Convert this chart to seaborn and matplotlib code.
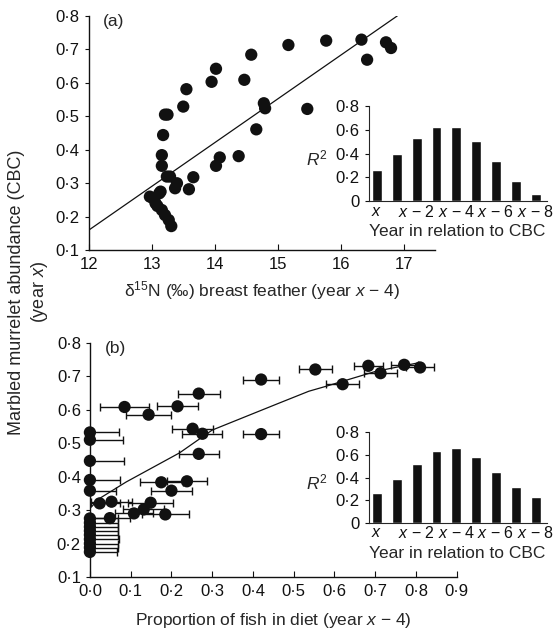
import matplotlib
matplotlib.use('Agg')
import matplotlib.pyplot as plt
import seaborn as sns
import pandas as pd
from matplotlib.ticker import FuncFormatter

# panel (a): d15N of breast feathers vs CBC abundance
n15 = [13.21, 13.25, 13.18, 13.16, 13.16, 13.24, 13.29, 13.40, 13.37, 12.97,
       13.02, 13.06, 13.12, 13.14, 13.09, 13.16, 13.21, 13.27, 13.31, 13.50,
       13.55, 13.59, 13.66, 13.95, 14.02, 14.02, 14.08, 14.38, 14.47, 14.58,
       14.66, 14.78, 14.80, 15.17, 15.47, 15.77, 16.33, 16.42, 16.72, 16.80]
cbc_a = [0.505, 0.505, 0.444, 0.384, 0.352, 0.320, 0.320, 0.300, 0.285, 0.260,
         0.255, 0.240, 0.270, 0.275, 0.232, 0.220, 0.205, 0.190, 0.172, 0.529,
         0.581, 0.282, 0.318, 0.603, 0.642, 0.352, 0.377, 0.381, 0.609, 0.684,
         0.461, 0.539, 0.524, 0.713, 0.522, 0.726, 0.729, 0.669, 0.721, 0.704]
fit_a_x = [12.0, 16.9]
fit_a_y = [0.160, 0.800]

# panel (b): proportion of fish in diet vs CBC abundance
fish = [0.0, 0.0, 0.0, 0.0, 0.0, 0.0, 0.0, 0.0, 0.0, 0.0, 0.0, 0.0, 0.0, 0.0,
        0.024, 0.053, 0.049, 0.108, 0.132, 0.149, 0.185, 0.175, 0.238, 0.200,
        0.267, 0.252, 0.276, 0.420, 0.144, 0.085, 0.215, 0.267, 0.420, 0.553,
        0.620, 0.683, 0.713, 0.771, 0.810]
cbc_b = [0.532, 0.510, 0.447, 0.390, 0.358, 0.275, 0.262, 0.250, 0.238, 0.226,
         0.213, 0.200, 0.188, 0.175, 0.320, 0.325, 0.276, 0.290, 0.302, 0.322,
         0.287, 0.383, 0.386, 0.358, 0.468, 0.543, 0.528, 0.527, 0.585, 0.608,
         0.610, 0.648, 0.690, 0.720, 0.676, 0.731, 0.709, 0.734, 0.726]
fish_err = [0.072, 0.081, 0.084, 0.075, 0.065, 0.068, 0.070, 0.068, 0.070, 0.068,
            0.072, 0.070, 0.068, 0.066, 0.050, 0.050, 0.050, 0.046, 0.050, 0.056,
            0.058, 0.053, 0.050, 0.050, 0.049, 0.050, 0.049, 0.045, 0.056, 0.060,
            0.050, 0.052, 0.045, 0.040, 0.040, 0.036, 0.040, 0.033, 0.035]
fit_b_x = [0.0, 0.024, 0.089, 0.22, 0.30, 0.463, 0.537, 0.577, 0.70, 0.81]
fit_b_y = [0.305, 0.335, 0.384, 0.471, 0.539, 0.619, 0.655, 0.669, 0.714, 0.741]

# insets: R^2 by lag year
lags = [0, 1, 2, 3, 4, 5, 6, 7, 8]
r2_a = [0.265, 0.400, 0.535, 0.628, 0.628, 0.510, 0.340, 0.172, 0.060]
r2_b = [0.267, 0.388, 0.519, 0.631, 0.661, 0.578, 0.450, 0.314, 0.228]
lag_ticks = [0, 2, 4, 6, 8]
lag_labels = ['$x$', '$x$ − 2', '$x$ − 4', '$x$ − 6', '$x$ − 8']

sns.set_style('ticks')
plt.rcParams['font.family'] = ['Liberation Sans', 'DejaVu Sans']
plt.rcParams['mathtext.fontset'] = 'custom'
plt.rcParams['mathtext.rm'] = 'Liberation Sans'
plt.rcParams['mathtext.it'] = 'Liberation Sans:italic'
plt.rcParams['font.size'] = 12

INK = '#111111'
TICK = 12
LAB = 12.5
dot = FuncFormatter(lambda v, p: f'{v:.1f}'.replace('.', '·'))


def style_main(ax):
    sns.despine(ax=ax)
    ax.tick_params(axis='x', direction='in', length=4, pad=5, labelsize=TICK, colors=INK)
    ax.tick_params(axis='y', direction='out', length=3, labelsize=TICK, colors=INK)
    ax.set_ylim(0.1, 0.8)
    ax.set_yticks([0.1, 0.2, 0.3, 0.4, 0.5, 0.6, 0.7, 0.8])
    ax.yaxis.set_major_formatter(dot)
    ax.set_ylabel('')
    for s in ax.spines.values():
        s.set_linewidth(1.0)
        s.set_color(INK)


def draw_inset(ax, vals):
    sns.barplot(x=lags, y=vals, color=INK, saturation=1, width=0.5, ax=ax)
    sns.despine(ax=ax)
    ax.set_xlim(-0.43, 8.56)
    ax.set_ylim(0, 0.8)
    ax.set_yticks([0, 0.2, 0.4, 0.6, 0.8])
    ax.yaxis.set_major_formatter(FuncFormatter(
        lambda v, p: '0' if v == 0 else f'{v:.1f}'.replace('.', '·')))
    ax.set_xticks(lag_ticks)
    ax.set_xticklabels(lag_labels)
    ax.tick_params(axis='x', length=0, pad=2, labelsize=11.5, colors=INK)
    ax.tick_params(axis='y', direction='out', length=3, labelsize=TICK, colors=INK)
    ax.set_xlabel('Year in relation to CBC', fontsize=LAB, labelpad=3)
    ax.set_ylabel('$R^2$', rotation=0, fontsize=LAB, ha='center', va='center')
    ax.yaxis.set_label_coords(-0.29, 0.45)
    ax.patch.set_alpha(0)


fig = plt.figure(figsize=(5.55, 6.35), dpi=100)

# (a)
ax_a = fig.add_axes([0.160, 0.606, 0.624, 0.369])
sns.scatterplot(x=n15, y=cbc_a, color=INK, s=78, edgecolor='none', ax=ax_a, zorder=3)
sns.lineplot(x=fit_a_x, y=fit_a_y, color=INK, linewidth=0.9, ax=ax_a)
ax_a.set_xlim(12, 17.5)
ax_a.set_xticks([12, 13, 14, 15, 16, 17])
style_main(ax_a)
ax_a.set_xlabel('δ$^{15}$N (‰) breast feather (year $x$ − 4)', fontsize=LAB, labelpad=5)
ax_a.text(0.04, 0.975, '(a)', transform=ax_a.transAxes, fontsize=LAB, va='center')

in_a = fig.add_axes([0.664, 0.683, 0.321, 0.150])
draw_inset(in_a, r2_a)

# (b)
ax_b = fig.add_axes([0.162, 0.0913, 0.661, 0.369])
ax_b.errorbar(fish, cbc_b, xerr=fish_err, fmt='none', ecolor=INK,
              elinewidth=1.0, capsize=2.6, capthick=1.0, zorder=2)
sns.lineplot(x=fit_b_x, y=fit_b_y, color=INK, linewidth=0.9, ax=ax_b, sort=False)
sns.scatterplot(x=fish, y=cbc_b, color=INK, s=78, edgecolor='none', ax=ax_b,
                zorder=3, clip_on=False)
ax_b.set_xlim(0, 0.9)
ax_b.set_xticks([0.0, 0.1, 0.2, 0.3, 0.4, 0.5, 0.6, 0.7, 0.8, 0.9])
ax_b.xaxis.set_major_formatter(dot)
style_main(ax_b)
ax_b.set_xlabel('Proportion of fish in diet (year $x$ − 4)', fontsize=LAB, labelpad=9)
ax_b.text(0.04, 0.975, '(b)', transform=ax_b.transAxes, fontsize=LAB, va='center')

in_b = fig.add_axes([0.664, 0.177, 0.321, 0.142])
draw_inset(in_b, r2_b)

fig.text(0.052, 0.54, 'Marbled murrelet abundance (CBC)\n(year $x$)', rotation=90,
         ha='center', va='center', fontsize=13, multialignment='center',
         linespacing=1.25)

fig.savefig('out.png', dpi=100)
